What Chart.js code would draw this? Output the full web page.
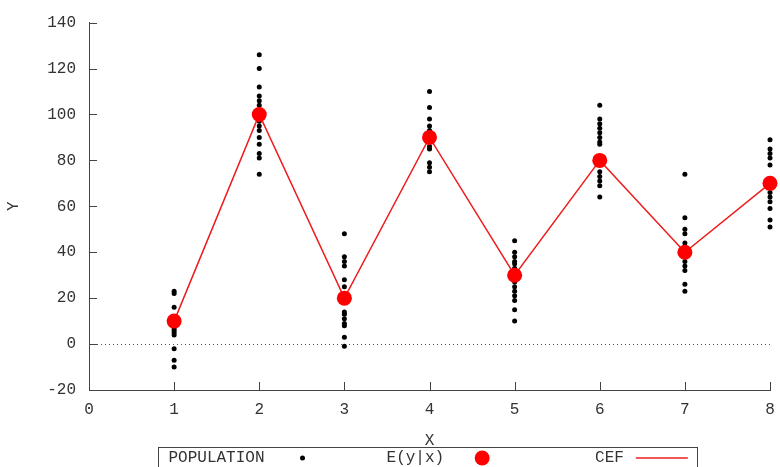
<!DOCTYPE html>
<html>
<head>
<meta charset="utf-8">
<script src="https://cdn.jsdelivr.net/npm/chart.js@4"></script>
<style>
  html, body { margin: 0; padding: 0; background: #fff; }
</style>
</head>
<body>
<canvas id="myChart" width="780" height="467"></canvas>
<script>
const xValues = [1, 2, 3, 4, 5, 6, 7, 8];
const cefValues = [10, 100, 20, 90, 30, 80, 40, 70];
const population1 = [23, 22, 16, 7, 6, 5, 4, -2, -7, -10];
const population2 = [126, 120, 112, 108, 106, 104, 97, 95, 93, 90, 87, 83, 81, 74];
const population3 = [48, 38, 36, 34, 28, 25, 14, 13, 11, 9, 8, 3, -1];
const population4 = [110, 103, 98, 95, 93, 92, 88, 86, 85, 79, 77, 75];
const population5 = [45, 40, 38, 36, 35, 33, 27, 25, 23, 21, 19, 15, 10];
const population6 = [104, 98, 96, 94, 92, 90, 88, 87, 75, 73, 71, 69, 64];
const population7 = [74, 55, 50, 48, 44, 42, 36, 34, 32, 26, 23];
const population8 = [89, 85, 83, 81, 78, 66, 64, 62, 59, 54, 51];
const populations = [population1, population2, population3, population4,
  population5, population6, population7, population8];
const xTicks = [0, 1, 2, 3, 4, 5, 6, 7, 8];
const yTicks = [-20, 0, 20, 40, 60, 80, 100, 120, 140];

const monoFont = { family: "'Liberation Mono', 'DejaVu Sans Mono', monospace", size: 16 };
const textColor = '#333';
const axisColor = '#444';

const populationPoints = [];
populations.forEach((ys, i) => {
  ys.forEach(y => populationPoints.push({ x: xValues[i], y: y }));
});
const cefPoints = xValues.map((x, i) => ({ x: x, y: cefValues[i] }));

// gnuplot style ticks pointing into the plot + dotted zero line
const axisExtras = {
  id: 'axisExtras',
  beforeDatasetsDraw(chart) {
    const { ctx, chartArea, scales } = chart;
    const y0 = scales.y.getPixelForValue(0);
    ctx.save();
    ctx.strokeStyle = '#555';
    ctx.lineWidth = 1;
    ctx.setLineDash([1, 3]);
    ctx.beginPath();
    ctx.moveTo(chartArea.left, Math.round(y0) + 0.5);
    ctx.lineTo(chartArea.right, Math.round(y0) + 0.5);
    ctx.stroke();
    ctx.restore();
  },
  afterDraw(chart) {
    const { ctx, chartArea, scales } = chart;
    ctx.save();
    ctx.strokeStyle = axisColor;
    ctx.lineWidth = 1;
    ctx.beginPath();
    yTicks.forEach(v => {
      const py = Math.round(scales.y.getPixelForValue(v)) + 0.5;
      ctx.moveTo(chartArea.left, py);
      ctx.lineTo(chartArea.left + 8, py);
    });
    xTicks.forEach(v => {
      const px = Math.round(scales.x.getPixelForValue(v)) + 0.5;
      ctx.moveTo(px, chartArea.bottom);
      ctx.lineTo(px, chartArea.bottom - 8);
    });
    ctx.stroke();
    ctx.restore();
  }
};

// boxed key under the axis, text first then sample
const keyBox = {
  id: 'keyBox',
  afterDraw(chart) {
    const { ctx } = chart;
    const boxW = 539;
    const boxL = 158.5;
    const boxT = 447.5;
    const colW = boxW / 3;
    const midY = 458;
    ctx.save();
    ctx.strokeStyle = axisColor;
    ctx.lineWidth = 1;
    ctx.strokeRect(boxL, boxT, boxW, 40);
    ctx.font = monoFont.size + 'px ' + monoFont.family;
    ctx.textAlign = 'right';
    ctx.textBaseline = 'middle';
    const order = ['POPULATION', 'E(y|x)', 'CEF'];
    order.forEach((label, i) => {
      const ds = chart.data.datasets.find(d => d.label === label);
      const colX = boxL + i * colW;
      ctx.fillStyle = textColor;
      ctx.fillText(label, colX + 106, midY);
      const sx = colX + 144;
      if (ds.showLine) {
        ctx.strokeStyle = ds.borderColor;
        ctx.lineWidth = ds.borderWidth;
        ctx.beginPath();
        ctx.moveTo(sx - 26, midY);
        ctx.lineTo(sx + 26, midY);
        ctx.stroke();
      } else {
        ctx.fillStyle = ds.backgroundColor;
        ctx.beginPath();
        ctx.arc(sx, midY, ds.pointRadius, 0, Math.PI * 2);
        ctx.fill();
      }
    });
    ctx.restore();
  }
};

new Chart(
  document.getElementById('myChart'),
  {
    type: 'scatter',
    data: {
      datasets: [
        {
          label: 'E(y|x)',
          data: cefPoints,
          backgroundColor: '#ff0000',
          borderColor: '#ff0000',
          borderWidth: 0,
          pointRadius: 7.5,
          showLine: false,
          clip: false,
          order: 0
        },
        {
          label: 'CEF',
          data: cefPoints,
          borderColor: '#ee1c1c',
          backgroundColor: '#ee1c1c',
          borderWidth: 1.5,
          pointRadius: 0,
          showLine: true,
          fill: false,
          clip: false,
          order: 1
        },
        {
          label: 'POPULATION',
          data: populationPoints,
          backgroundColor: '#000',
          borderColor: '#000',
          borderWidth: 0,
          pointRadius: 2.5,
          showLine: false,
          clip: false,
          order: 2
        }
      ]
    },
    options: {
      responsive: false,
      animation: false,
      layout: { padding: { top: 15, right: 10, left: 0, bottom: 0 } },
      plugins: {
        legend: { display: false },
        tooltip: { enabled: false }
      },
      scales: {
        x: {
          type: 'linear',
          min: 0,
          max: 8,
          afterBuildTicks: scale => { scale.ticks = xTicks.map(v => ({ value: v })); },
          afterFit: scale => {
            scale.height = 77;
            scale.paddingRight = 0;
            scale.paddingLeft = 0;
          },
          grid: { drawOnChartArea: false, drawTicks: false },
          border: { color: axisColor, width: 1 },
          ticks: { font: monoFont, color: textColor, padding: 10, maxRotation: 0 },
          title: { display: true, text: 'X', font: monoFont, color: textColor, padding: { top: 0, bottom: 17 } }
        },
        y: {
          type: 'linear',
          min: -20,
          max: 140,
          afterBuildTicks: scale => { scale.ticks = yTicks.map(v => ({ value: v })); },
          afterFit: scale => { scale.width = 89; },
          grid: { drawOnChartArea: false, drawTicks: false },
          border: { color: axisColor, width: 1 },
          ticks: { font: monoFont, color: textColor, padding: 13 },
          title: { display: true, text: 'Y', font: monoFont, color: textColor, padding: { top: 4, bottom: 0 } }
        }
      }
    },
    plugins: [axisExtras, keyBox]
  }
);
</script>
</body>
</html>
